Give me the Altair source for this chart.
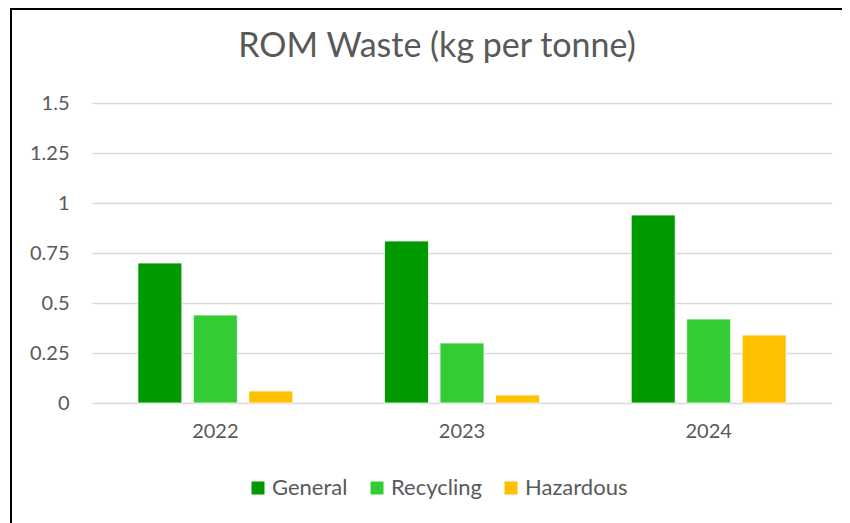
import altair as alt
import pandas as pd

years = ["2022", "2023", "2024"]
categories = ["General", "Recycling", "Hazardous"]
general = [0.70, 0.81, 0.94]
recycling = [0.44, 0.30, 0.42]
hazardous = [0.06, 0.04, 0.34]
colors = ["#009900", "#33cc33", "#ffc000"]
y_ticks = [0, 0.25, 0.5, 0.75, 1, 1.25, 1.5]

rows = []
for i, y in enumerate(years):
    for cat, vals in zip(categories, [general, recycling, hazardous]):
        rows.append({"Year": y, "Category": cat, "Value": vals[i]})
df = pd.DataFrame(rows)

FONT = "Lato"
GREY = "#595959"

bars = alt.Chart(df).mark_bar(stroke="white", strokeWidth=0.8).encode(
    x=alt.X("Year:N", sort=years,
            scale=alt.Scale(paddingInner=0.372, paddingOuter=0.186),
            axis=alt.Axis(title=None, labelAngle=0, ticks=False, domain=False,
                          labelFont=FONT, labelFontSize=20, labelColor=GREY,
                          labelPadding=18, grid=False)),
    xOffset=alt.XOffset("Category:N", sort=categories,
                        scale=alt.Scale(paddingInner=0.207, paddingOuter=0)),
    y=alt.Y("Value:Q", scale=alt.Scale(domain=[0, 1.5], nice=False),
            axis=alt.Axis(title=None, values=y_ticks,
                          ticks=False, domain=False, labelFont=FONT,
                          labelFontSize=20, labelColor=GREY, labelPadding=23,
                          gridColor="#d9d9d9", gridWidth=1.5,
                          labelExpr="'' + datum.value")),
    color=alt.Color("Category:N", sort=categories,
                    scale=alt.Scale(domain=categories, range=colors),
                    legend=alt.Legend(title=None, orient="none", direction="horizontal",
                                      legendX=155, legendY=374,
                                      symbolType="square", symbolSize=169,
                                      symbolStrokeWidth=0, labelFont=FONT,
                                      labelFontSize=22, labelColor=GREY,
                                      labelOffset=3, columnPadding=18)),
)

frame_data = pd.DataFrame({"a": [0]})
left_edge = alt.Chart(frame_data).mark_rule(color="black", strokeWidth=2, clip=False).encode(
    x=alt.value(-81), y=alt.value(-95), y2=alt.value(600)
)
top_edge = alt.Chart(frame_data).mark_rule(color="black", strokeWidth=2, clip=False).encode(
    x=alt.value(-82), x2=alt.value(750), y=alt.value(-94)
)

chart = alt.layer(bars, left_edge, top_edge).properties(
    width=740, height=300,
    autosize=alt.AutoSizeParams(type="none"),
    padding={"left": 84, "top": 95, "right": 10, "bottom": 120},
    title=alt.TitleParams("ROM Waste (kg per tonne)", font=FONT, fontSize=34,
                          fontWeight="normal", color=GREY, anchor="middle",
                          dx=-25, offset=-57),
).configure_view(stroke=None)

chart.save("out.html", embed_options={"renderer": "svg", "actions": False})
